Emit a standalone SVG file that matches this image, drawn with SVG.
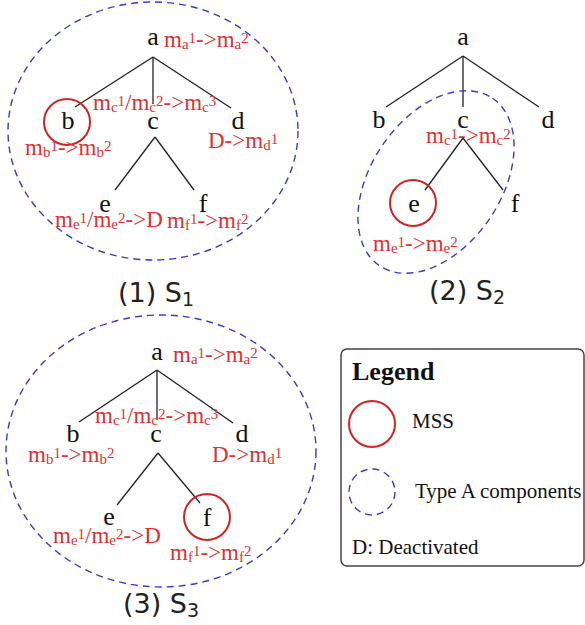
<svg xmlns="http://www.w3.org/2000/svg" width="585" height="625" viewBox="0 0 585 625">
<style>
.n{font-family:"Liberation Serif","Times New Roman",serif;font-size:26px;fill:#111;text-anchor:middle}
.r{font-family:"Liberation Serif","Times New Roman",serif;font-size:23px;fill:#e03131}
.s{font-size:15px}
.cap{font-family:"DejaVu Sans",Verdana,sans-serif;font-size:27px;fill:#222;text-anchor:middle}
.cs{font-size:19px}
.lg{font-family:"Liberation Serif","Times New Roman",serif;font-size:21px;fill:#111}
.edge line{stroke:#222;stroke-width:1.3}
.mss{fill:none;stroke:#d42222;stroke-width:2}
.ta{fill:none;stroke:#3a3ac8;stroke-width:1.4;stroke-dasharray:7 5}
</style>
<rect width="585" height="625" fill="#fff"/>

<g id="connectors" class="edge">
<line x1="153" y1="57" x2="75" y2="107"/>
<line x1="153" y1="57" x2="153" y2="104"/>
<line x1="153" y1="57" x2="231" y2="108"/>
<line x1="155" y1="137" x2="115" y2="190"/>
<line x1="155" y1="137" x2="194" y2="190"/>
<line x1="463" y1="56" x2="386" y2="107"/>
<line x1="463" y1="56" x2="463" y2="107"/>
<line x1="463" y1="56" x2="539" y2="107"/>
<line x1="463" y1="138" x2="425" y2="190"/>
<line x1="463" y1="138" x2="503" y2="190"/>
<line x1="157" y1="370" x2="79" y2="422"/>
<line x1="157" y1="370" x2="157" y2="420"/>
<line x1="157" y1="370" x2="233" y2="423"/>
<line x1="158" y1="453" x2="117" y2="505"/>
<line x1="158" y1="453" x2="200" y2="503"/>
</g>

<!-- Panel 1 -->
<g id="s1-component"><ellipse class="ta" cx="153" cy="131" rx="145" ry="129"/></g>
<g id="s1-a"><text class="n" x="153" y="45">a</text>
<text class="r" x="164" y="47">m<tspan class="s" dy="2">a</tspan><tspan class="s" dy="-6">1</tspan><tspan dy="4">-&gt;m</tspan><tspan class="s" dy="2">a</tspan><tspan class="s" dy="-6">2</tspan></text></g>
<g id="s1-b"><circle class="mss" cx="67" cy="122" r="23"/><text class="n" x="68" y="129">b</text>
<text class="r" x="25" y="155">m<tspan class="s" dy="2">b</tspan><tspan class="s" dy="-6">1</tspan><tspan dy="4">-&gt;m</tspan><tspan class="s" dy="2">b</tspan><tspan class="s" dy="-6">2</tspan></text></g>
<g id="s1-c"><text class="n" x="153" y="129">c</text>
<text class="r" x="93" y="110">m<tspan class="s" dy="2">c</tspan><tspan class="s" dy="-6">1</tspan><tspan dy="4">/m</tspan><tspan class="s" dy="2">c</tspan><tspan class="s" dy="-6">2</tspan><tspan dy="4">-&gt;m</tspan><tspan class="s" dy="2">c</tspan><tspan class="s" dy="-6">3</tspan></text></g>
<g id="s1-d"><text class="n" x="238" y="129">d</text>
<text class="r" x="208" y="148">D-&gt;m<tspan class="s" dy="2">d</tspan><tspan class="s" dy="-6">1</tspan></text></g>
<g id="s1-e"><text class="n" x="105" y="212">e</text>
<text class="r" x="55" y="227">m<tspan class="s" dy="2">e</tspan><tspan class="s" dy="-6">1</tspan><tspan dy="4">/m</tspan><tspan class="s" dy="2">e</tspan><tspan class="s" dy="-6">2</tspan><tspan dy="4">-&gt;D</tspan></text></g>
<g id="s1-f"><text class="n" x="203" y="212">f</text>
<text class="r" x="167" y="228">m<tspan class="s" dy="2">f</tspan><tspan class="s" dy="-6">1</tspan><tspan dy="4">-&gt;m</tspan><tspan class="s" dy="2">f</tspan><tspan class="s" dy="-6">2</tspan></text></g>
<text class="cap" x="156" y="302">(1) S<tspan class="cs" dy="4">1</tspan></text>

<!-- Panel 2 -->
<g id="s2-component"><ellipse class="ta" cx="436" cy="182" rx="101" ry="65" transform="rotate(-56 436 182)"/></g>
<g id="s2-a"><text class="n" x="463" y="45">a</text></g>
<g id="s2-b"><text class="n" x="379" y="128">b</text></g>
<g id="s2-c"><text class="n" x="463" y="128">c</text>
<text class="r" x="426" y="143">m<tspan class="s" dy="2">c</tspan><tspan class="s" dy="-6">1</tspan><tspan dy="4">-&gt;m</tspan><tspan class="s" dy="2">c</tspan><tspan class="s" dy="-6">2</tspan></text></g>
<g id="s2-d"><text class="n" x="548" y="128">d</text></g>
<g id="s2-e"><circle class="mss" cx="413" cy="203" r="23"/><text class="n" x="414" y="212">e</text>
<text class="r" x="373" y="251">m<tspan class="s" dy="2">e</tspan><tspan class="s" dy="-6">1</tspan><tspan dy="4">-&gt;m</tspan><tspan class="s" dy="2">e</tspan><tspan class="s" dy="-6">2</tspan></text></g>
<g id="s2-f"><text class="n" x="515" y="212">f</text></g>
<text class="cap" x="467" y="300">(2) S<tspan class="cs" dy="4">2</tspan></text>

<!-- Panel 3 -->
<g id="s3-component"><ellipse class="ta" cx="161" cy="451" rx="155" ry="136"/></g>
<g id="s3-a"><text class="n" x="157" y="360">a</text>
<text class="r" x="173" y="362">m<tspan class="s" dy="2">a</tspan><tspan class="s" dy="-6">1</tspan><tspan dy="4">-&gt;m</tspan><tspan class="s" dy="2">a</tspan><tspan class="s" dy="-6">2</tspan></text></g>
<g id="s3-b"><text class="n" x="73" y="442">b</text>
<text class="r" x="28" y="462">m<tspan class="s" dy="2">b</tspan><tspan class="s" dy="-6">1</tspan><tspan dy="4">-&gt;m</tspan><tspan class="s" dy="2">b</tspan><tspan class="s" dy="-6">2</tspan></text></g>
<g id="s3-c"><text class="n" x="156" y="442">c</text>
<text class="r" x="95" y="423">m<tspan class="s" dy="2">c</tspan><tspan class="s" dy="-6">1</tspan><tspan dy="4">/m</tspan><tspan class="s" dy="2">c</tspan><tspan class="s" dy="-6">2</tspan><tspan dy="4">-&gt;m</tspan><tspan class="s" dy="2">c</tspan><tspan class="s" dy="-6">3</tspan></text></g>
<g id="s3-d"><text class="n" x="242" y="442">d</text>
<text class="r" x="212" y="462">D-&gt;m<tspan class="s" dy="2">d</tspan><tspan class="s" dy="-6">1</tspan></text></g>
<g id="s3-e"><text class="n" x="109" y="525">e</text>
<text class="r" x="53" y="543">m<tspan class="s" dy="2">e</tspan><tspan class="s" dy="-6">1</tspan><tspan dy="4">/m</tspan><tspan class="s" dy="2">e</tspan><tspan class="s" dy="-6">2</tspan><tspan dy="4">-&gt;D</tspan></text></g>
<g id="s3-f"><circle class="mss" cx="207" cy="517" r="23"/><text class="n" x="207" y="526">f</text>
<text class="r" x="170" y="560">m<tspan class="s" dy="2">f</tspan><tspan class="s" dy="-6">1</tspan><tspan dy="4">-&gt;m</tspan><tspan class="s" dy="2">f</tspan><tspan class="s" dy="-6">2</tspan></text></g>
<text class="cap" x="161" y="613">(3) S<tspan class="cs" dy="4">3</tspan></text>

<!-- Legend -->
<g id="legend">
<rect x="341" y="349" width="243" height="217" rx="6" fill="#fff" stroke="#444" stroke-width="1.5"/>
<text x="352" y="380" style="font-family:'Liberation Serif','Times New Roman',serif;font-size:26px;font-weight:bold;fill:#111">Legend</text>
<circle class="mss" cx="372" cy="424" r="23"/>
<text class="lg" x="412" y="428">MSS</text>
<circle class="ta" cx="372" cy="492" r="23"/>
<text class="lg" x="415" y="498">Type A components</text>
<text class="lg" x="352" y="554">D: Deactivated</text>
</g>
</svg>
